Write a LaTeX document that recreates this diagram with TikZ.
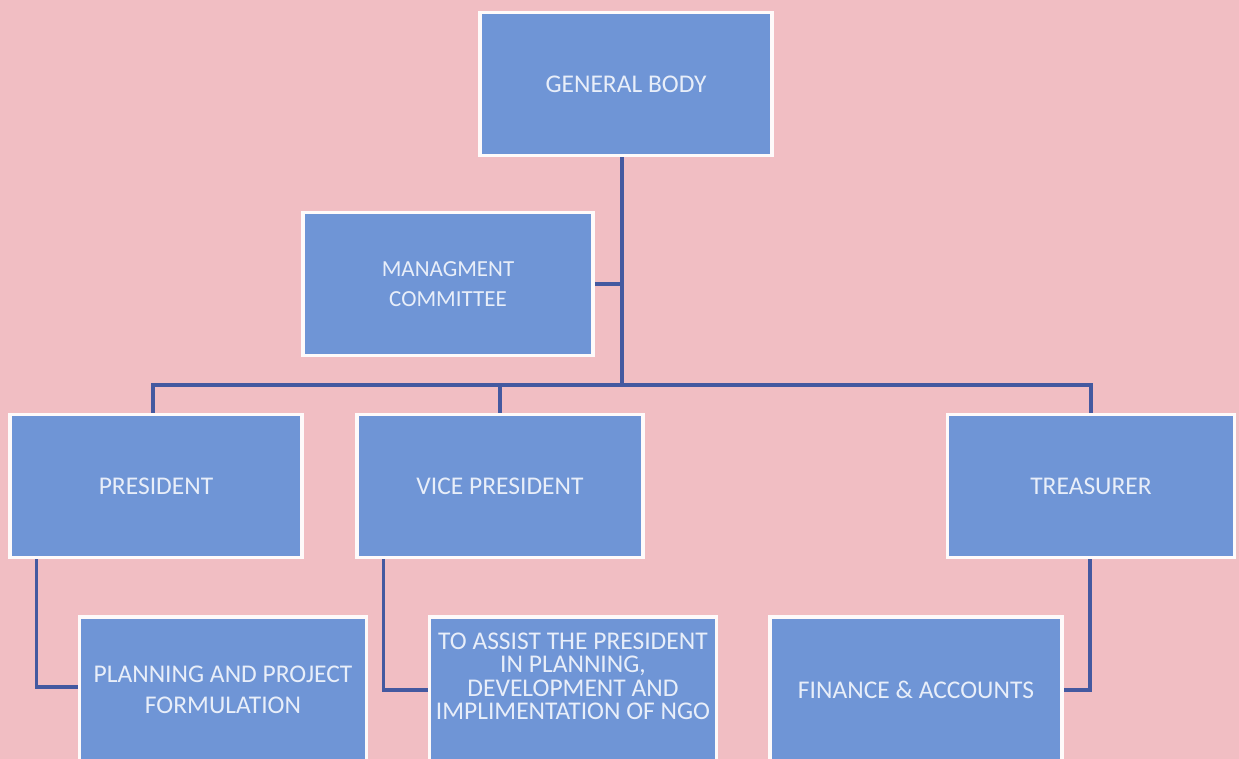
\documentclass[tikz,border=0pt]{standalone}
\usepackage{fontspec}
\setmainfont{Carlito}
\definecolor{bgpink}{HTML}{F1BEC3}
\definecolor{boxblue}{HTML}{6F95D6}
\definecolor{linecol}{HTML}{4459A0}
\definecolor{txtcol}{HTML}{E8EEF9}
\begin{document}
\begin{tikzpicture}[x=1pt,y=-1pt,
  orgbox/.style={rectangle, fill=boxblue, draw=white!92!bgpink, line width=3.5pt,
    text=txtcol, font=\fontsize{25.5}{31}\selectfont, align=center, inner sep=0pt,
    minimum width=#1, minimum height=143pt},
  orgbox/.default=290pt,
  conn/.style={draw=linecol, line width=3.5pt}]
\path[use as bounding box, fill=bgpink] (0,0) rectangle (1239,759);
\clip (0,0) rectangle (1239,759);
% nodes
\node[orgbox=292pt] (gb) at (626,84) {GENERAL BODY};
\node[orgbox=290pt, font=\fontsize{23}{30}\selectfont] (mc) at (448,284) {MANAGMENT\\COMMITTEE};
\node[orgbox=292pt] (pres) at (156,486) {PRESIDENT};
\node[orgbox=286pt] (vp) at (500,486) {VICE PRESIDENT};
\node[orgbox=287pt] (tr) at (1091,486) {TREASURER};
\node[orgbox=287pt, minimum height=146pt] (plan) at (223,690) {PLANNING AND PROJECT\\FORMULATION};
\node[orgbox=287pt, minimum height=146pt, font=\fontsize{25.5}{23}\selectfont] (assist) at (573,690) {\raisebox{4pt}[0pt][0pt]{\begin{tabular}{@{}c@{}}TO ASSIST THE PRESIDENT\\IN PLANNING,\\DEVELOPMENT AND\\IMPLIMENTATION OF NGO\end{tabular}}};
\node[orgbox=292pt, minimum height=146pt] (fin) at (916,690) {FINANCE \& ACCOUNTS};
% connectors
\coordinate (busc) at (622,385);
\draw[conn] (gb.south -| busc) -- (busc);
\draw[conn] (mc.east) -- (mc.east -| busc);
\draw[conn] ([xshift=-3pt]pres.north) -- ([xshift=-3pt]pres.north |- busc) -- (tr.north |- busc) -- (tr.north);
\draw[conn] (vp.north) -- (vp.north |- busc);
\draw[conn] ([xshift=28pt]pres.south west) |- ([yshift=3pt]plan.west);
\draw[conn] ([xshift=28pt]vp.south west) |- (assist.west);
\draw[conn] ([xshift=-1pt]tr.south) |- (fin.east);
\end{tikzpicture}
\end{document}
